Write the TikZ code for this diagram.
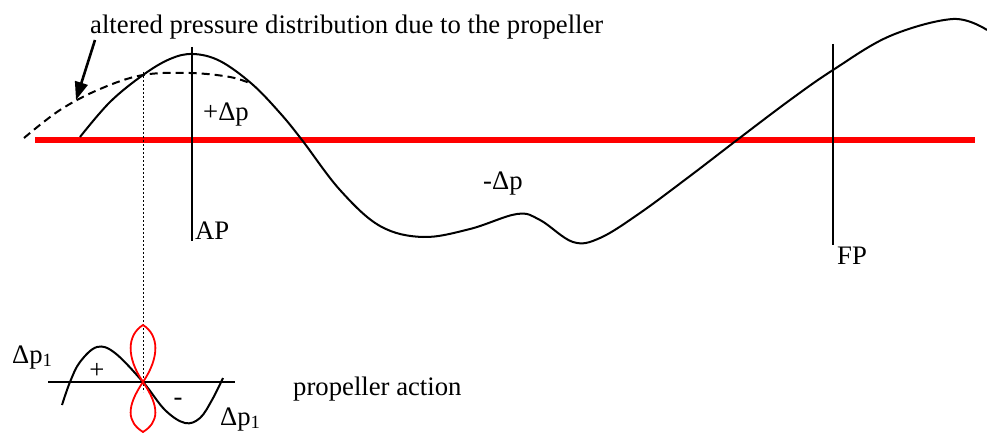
\documentclass[tikz,border=0pt]{standalone}
\usepackage{fontspec}
\setmainfont{Liberation Serif}
\usepackage{xcolor}
\usetikzlibrary{arrows.meta}

\tikzset{
  lbl/.style={inner sep=0pt, font=\fontsize{26.7}{30}\selectfont},
  curve/.style={line width=2pt, smooth, tension=0.6},
  mark line/.style={line width=2.4pt}
}

\begin{document}
\begin{tikzpicture}[x=1pt, y=-1pt]
  \useasboundingbox (0,0) rectangle (987,433);
  % linha de base
  \draw[red, line width=6pt] (35,140) -- (975,140);
  % distribuicao de pressao
  \draw[curve] plot coordinates {(80,137) (110,102) (143,75) (170,59) (193,54)
    (220,61) (252,84) (280,113) (302,140) (340,190) (380,226) (423,237)
    (470,229) (517,214) (540,220) (573,242) (600,238) (640,213) (690,176)
    (737,140) (790,100) (833,70) (890,36) (953,19) (987,30)};
  % distribuicao alterada
  \draw[curve, dash pattern=on 8pt off 5pt] plot coordinates {(24,138)
    (60,110) (100,89) (143,75) (190,73) (230,77) (252,84)};
  % AP e FP
  \draw[mark line] (192,47) -- (192,241);
  \draw[mark line] (833,44) -- (833,245);
  \node[lbl, anchor=base west] (ap) at (195,239) {AP};
  \node[lbl, anchor=base west] (fp) at (837,264) {FP};
  \node[lbl, anchor=base west] (pos) at (203,121) {+Δp};
  \node[lbl, anchor=base west] (neg) at (483,189) {-Δp};
  % rotulo
  \node[lbl, anchor=base west] (title) at (90,34)
    {altered pressure distribution due to the propeller};
  \coordinate (arrtail) at (95,40);
  \coordinate (arrtip) at (76,100);
  \draw[line width=2.6pt, -{Stealth[length=18pt, width=13pt, inset=0pt]}]
    (arrtail) -- (arrtip);
  % linha pontilhada
  \draw[dash pattern=on 2pt off 2pt, line width=1pt] (143,72) -- (143,392);
  % acao do helice
  \draw[line width=2pt] (48,382) -- (235,382);
  \draw[curve] plot coordinates {(62,405) (70,382) (80,362) (97,347) (115,353)
    (143,382) (165,410) (185,423) (200,418) (212,400) (223,378)};
  \draw[red, line width=1.8pt] (143,382) .. controls (126,357) and (127,335)
    .. (143,325) .. controls (159,335) and (160,357) .. (143,382);
  \draw[red, line width=1.8pt] (143,382) .. controls (126,407) and (127,422)
    .. (143,432) .. controls (159,422) and (160,407) .. (143,382);
  \node[lbl] (plus) at (97,371) {+};
  \node[lbl] (minus) at (178,402) {-};
  \node[lbl, anchor=base west] (dpa) at (12,363) {Δp\textsubscript{1}};
  \node[lbl, anchor=base west] (dpb) at (220,425) {Δp\textsubscript{1}};
  \node[lbl, anchor=base west] (action) at (293,395) {propeller action};
\end{tikzpicture}
\end{document}
